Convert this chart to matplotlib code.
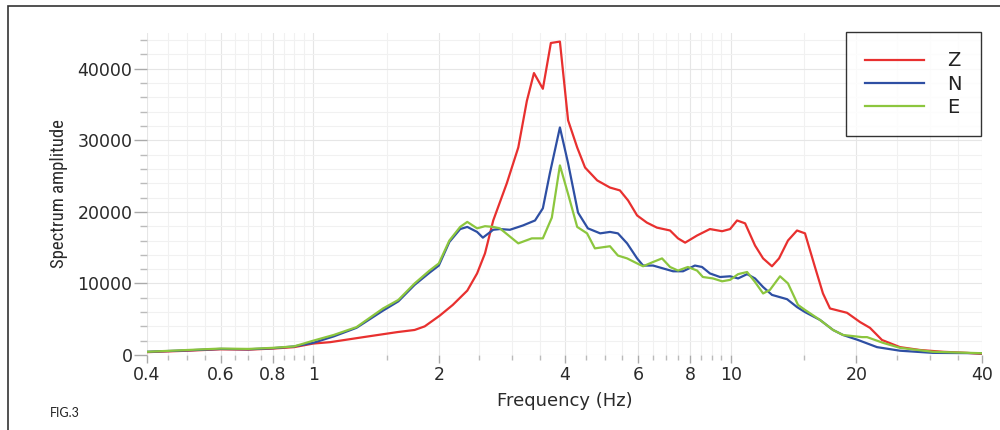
import numpy as np
import matplotlib
matplotlib.use("Agg")
import matplotlib.pyplot as plt
from matplotlib.ticker import FixedLocator, NullFormatter
from matplotlib.patches import Rectangle
from matplotlib import font_manager

# ---- data ----
freq_z = [0.4, 0.5, 0.6, 0.7, 0.8, 0.9, 1.0, 1.1, 1.32, 1.59, 1.75, 1.85, 2.01, 2.16,
          2.34, 2.47, 2.58, 2.70, 2.91, 3.10, 3.25, 3.38, 3.55, 3.71, 3.90, 4.08, 4.29,
          4.48, 4.79, 5.14, 5.43, 5.68, 5.97, 6.30, 6.66, 7.16, 7.48, 7.78, 8.31, 8.92,
          9.54, 9.97, 10.36, 10.83, 11.44, 11.96, 12.56, 13.06, 13.72, 14.42, 15.07,
          15.92, 16.64, 17.30, 19.0, 20.42, 21.56, 23.04, 25.45, 28.42, 32.26, 36.8, 40]
amp_z = [400, 600, 800, 750, 900, 1100, 1600, 1800, 2500, 3200, 3500, 4000, 5500, 7000,
         9000, 11400, 14200, 18800, 24000, 29000, 35500, 39400, 37200, 43600, 43800, 32800,
         29000, 26200, 24400, 23400, 23000, 21600, 19500, 18500, 17800, 17400, 16300, 15700,
         16700, 17600, 17300, 17600, 18800, 18400, 15300, 13500, 12400, 13500, 16000, 17400,
         17000, 12300, 8600, 6500, 5900, 4600, 3800, 2100, 1100, 700, 450, 300, 150]

freq_n = [0.4, 0.5, 0.6, 0.7, 0.8, 0.9, 1.0, 1.12, 1.27, 1.47, 1.6, 1.75, 1.9, 2.0, 2.12,
          2.25, 2.34, 2.47, 2.55, 2.70, 2.80, 2.96, 3.18, 3.40, 3.55, 3.69, 3.90, 4.08,
          4.31, 4.55, 4.87, 5.14, 5.37, 5.65, 5.97, 6.17, 6.52, 6.89, 7.28, 7.69, 8.21,
          8.54, 8.92, 9.43, 9.97, 10.42, 10.95, 11.44, 11.96, 12.56, 13.65, 14.42, 15.07,
          16.37, 17.59, 18.58, 20.19, 22.42, 25.45, 30.5, 40]
amp_n = [450, 650, 850, 800, 950, 1200, 1700, 2600, 3800, 6200, 7500, 9800, 11500, 12500,
         15800, 17600, 17900, 17200, 16400, 17500, 17600, 17500, 18100, 18800, 20500, 25400,
         31800, 26800, 19900, 17700, 17000, 17200, 17000, 15600, 13500, 12500, 12500, 12100,
         11700, 11700, 12500, 12300, 11400, 10900, 11000, 10700, 11300, 10700, 9500, 8400,
         7800, 6700, 6000, 4900, 3500, 2800, 2100, 1100, 600, 300, 250]

freq_e = [0.4, 0.5, 0.6, 0.7, 0.8, 0.9, 1.0, 1.12, 1.27, 1.47, 1.6, 1.75, 1.9, 2.0, 2.12,
          2.25, 2.34, 2.47, 2.58, 2.70, 2.80, 3.10, 3.34, 3.55, 3.73, 3.90, 4.08, 4.29,
          4.53, 4.73, 5.14, 5.37, 5.65, 5.97, 6.17, 6.52, 6.85, 7.16, 7.48, 7.90, 8.31,
          8.58, 9.07, 9.54, 9.97, 10.42, 10.95, 11.44, 11.96, 12.42, 13.13, 13.72, 14.50,
          15.07, 16.37, 17.59, 18.58, 20.64, 21.22, 23.17, 25.45, 30.5, 40]
amp_e = [450, 700, 900, 850, 1000, 1200, 2000, 2800, 3900, 6500, 7700, 10000, 11800, 12800,
         16000, 17900, 18600, 17700, 18000, 17900, 17700, 15600, 16300, 16300, 19200, 26500,
         22500, 17900, 17000, 14900, 15200, 13900, 13500, 12800, 12400, 13000, 13500, 12300,
         11800, 12300, 11800, 10900, 10700, 10300, 10500, 11300, 11600, 10200, 8600, 9100,
         11000, 10000, 7000, 6300, 4900, 3500, 2800, 2500, 2500, 1700, 1000, 450, 250]

x_major = [0.4, 0.6, 0.8, 1, 2, 4, 6, 8, 10, 20, 40]
x_labels = ["0.4", "0.6", "0.8", "1", "2", "4", "6", "8", "10", "20", "40"]
x_minor = [0.45, 0.5, 0.55, 0.65, 0.7, 0.75, 0.85, 0.9, 0.95, 1.5, 2.5, 3, 3.5,
           4.5, 5, 5.5, 6.5, 7, 7.5, 8.5, 9, 9.5, 15, 25, 30, 35]
y_major = [0, 10000, 20000, 30000, 40000]
y_minor = list(range(2000, 46000, 2000))

# narrow face for the y label, if one is installed
installed = {f.name for f in font_manager.fontManager.ttflist}
narrow = [n for n in ["Liberation Sans Narrow", "Roboto Condensed", "Open Sans Condensed",
                      "DejaVu Sans Condensed"] if n in installed]
condensed_dejavu = any(f.name == "DejaVu Sans" and f.stretch in ("condensed", 300)
                       for f in font_manager.fontManager.ttflist)
if narrow:
    ylab_kw = dict(family=narrow[0], fontsize=13.5)
elif condensed_dejavu:
    ylab_kw = dict(family="DejaVu Sans", stretch="condensed", fontsize=12.5)
else:
    ylab_kw = dict(family="DejaVu Sans", fontsize=11)

# ---- figure ----
fig = plt.figure(figsize=(10, 4.3), dpi=100)
ax = fig.add_axes([0.147, 0.1744, 0.835, 0.7489])

ax.plot(freq_z, amp_z, color="#e8302f", lw=1.6, label="Z", zorder=3)
ax.plot(freq_n, amp_n, color="#2e4fa3", lw=1.6, label="N", zorder=4)
ax.plot(freq_e, amp_e, color="#8cc63e", lw=1.6, label="E", zorder=5)

ax.set_xscale("log")
ax.set_xlim(0.4, 40)
ax.set_ylim(0, 45000)

ax.xaxis.set_major_locator(FixedLocator(x_major))
ax.set_xticklabels(x_labels)
ax.xaxis.set_minor_locator(FixedLocator(x_minor))
ax.xaxis.set_minor_formatter(NullFormatter())
ax.yaxis.set_major_locator(FixedLocator(y_major))
ax.yaxis.set_minor_locator(FixedLocator(y_minor))

ax.tick_params(axis="x", which="major", length=6, width=1, color="#aaaaaa",
               labelsize=12.5, labelcolor="#2a2a2a", pad=2)
ax.tick_params(axis="x", which="minor", length=3.5, width=1, color="#bbbbbb")
ax.tick_params(axis="y", which="major", length=9.5, width=1, color="#aaaaaa",
               labelsize=12.5, labelcolor="#2a2a2a", pad=1)
ax.tick_params(axis="y", which="minor", length=5, width=1, color="#bbbbbb")

ax.grid(which="major", color="#e6e6e6", lw=0.8)
ax.grid(which="minor", color="#f1f1f1", lw=0.8)
ax.set_axisbelow(True)
for s in ax.spines.values():
    s.set_visible(False)

ax.set_xlabel("Frequency (Hz)", fontsize=13, color="#2a2a2a", labelpad=6)
ax.set_ylabel("Spectrum amplitude", color="#2a2a2a", labelpad=7, **ylab_kw)

leg = ax.legend(loc="upper right", bbox_to_anchor=(0.981, 0.9256),
                bbox_transform=fig.transFigure, borderaxespad=0, fontsize=14,
                frameon=True, fancybox=False, edgecolor="black", borderpad=1.0,
                handlelength=3.0, handletextpad=1.2, labelspacing=0.22)
leg.get_frame().set_linewidth(1.0)
for t in leg.get_texts():
    t.set_color("#222222")

# outer frame of the figure panel
fig.patches.append(Rectangle((0.008, -0.2), 1.2, 1.2 - 6 / 430, transform=fig.transFigure,
                             fill=False, edgecolor="#333333", lw=1.2))

fig.text(0.05, 1 - 413 / 430, "FIG.3", fontsize=9, family=["Lato", "DejaVu Sans"],
         va="center", color="#222222")

fig.savefig("out.png", dpi=100)
